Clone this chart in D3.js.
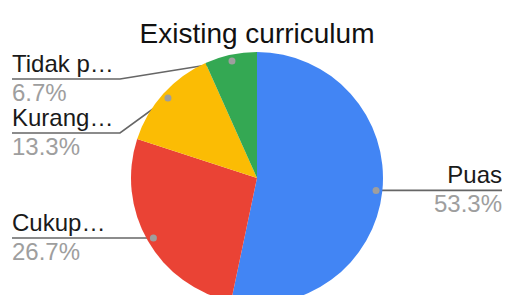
<!DOCTYPE html>
<html><head><meta charset="utf-8">
<script src="https://cdn.jsdelivr.net/npm/d3@7"></script>
<style>html,body{margin:0;padding:0;background:#fff;}svg{display:block;}</style>
</head><body>
<svg id="chart" width="505" height="295"></svg>
<script>
const title = "Existing curriculum";
const categories = ["Puas", "Cukup…", "Kurang…", "Tidak p…"];
const values = [53.3, 26.7, 13.3, 6.7];
const pctLabels = ["53.3%", "26.7%", "13.3%", "6.7%"];
const colors = ["#4285F4", "#EA4335", "#FBBC04", "#34A853"];

const W = 505, H = 295;
const cx = 257, cy = 178, R = 126;
const font = "'Liberation Sans', Arial, sans-serif";
const svg = d3.select("#chart");

svg.append("text").attr("x", cx).attr("y", 43).attr("text-anchor", "middle")
  .attr("font-family", font).attr("font-size", 28).attr("fill", "#111").text(title);

const pie = d3.pie().sort(null).value(d => d)(values);
const arc = d3.arc().innerRadius(0).outerRadius(R);
const dotArc = d3.arc().innerRadius(R * 0.95).outerRadius(R * 0.95);

// label layout
const items = pie.map((p, i) => {
  const [dx, dy] = dotArc.centroid(p);
  return { i, dx: cx + dx, dy: cy + dy, side: dx < 0 ? "left" : "right" };
});
const minLineY = 79, blockH = 54;
["left", "right"].forEach(side => {
  const arr = items.filter(d => d.side === side).sort((a, b) => a.dy - b.dy);
  let prev = -Infinity;
  arr.forEach(d => { d.ly = Math.max(d.dy, prev + blockH, minLineY); prev = d.ly; });
});

const gLines = svg.append("g");
const gPie = svg.append("g").attr("transform", `translate(${cx},${cy})`);
const gTop = svg.append("g");

items.forEach(d => {
  let pts;
  if (d.side === "left") {
    pts = [[12, d.ly], [120, d.ly], [d.dx, d.dy]];
  } else {
    pts = [[d.dx, d.dy], [502, d.ly]];
    if (Math.abs(d.ly - d.dy) > 0.5) pts = [[d.dx, d.dy], [385, d.ly], [502, d.ly]];
  }
  gLines.append("path").attr("d", d3.line()(pts)).attr("fill", "none")
    .attr("stroke", "#666").attr("stroke-width", 1.6);
  const tx = d.side === "left" ? 12 : 502;
  const anchor = d.side === "left" ? "start" : "end";
  gTop.append("text").attr("x", tx).attr("y", d.ly - 7).attr("text-anchor", anchor)
    .attr("font-family", font).attr("font-size", 24).attr("fill", "#1a1a1a").text(categories[d.i]);
  gTop.append("text").attr("x", tx).attr("y", d.ly + 22).attr("text-anchor", anchor)
    .attr("font-family", font).attr("font-size", 24).attr("fill", "#9e9e9e").text(pctLabels[d.i]);
});

gPie.selectAll("path").data(pie).join("path")
  .attr("d", arc).attr("fill", (d, i) => colors[i]);

items.forEach(d => {
  gTop.append("circle").attr("cx", d.dx).attr("cy", d.dy).attr("r", 3.5).attr("fill", "#9e9e9e");
});
</script>
</body></html>
